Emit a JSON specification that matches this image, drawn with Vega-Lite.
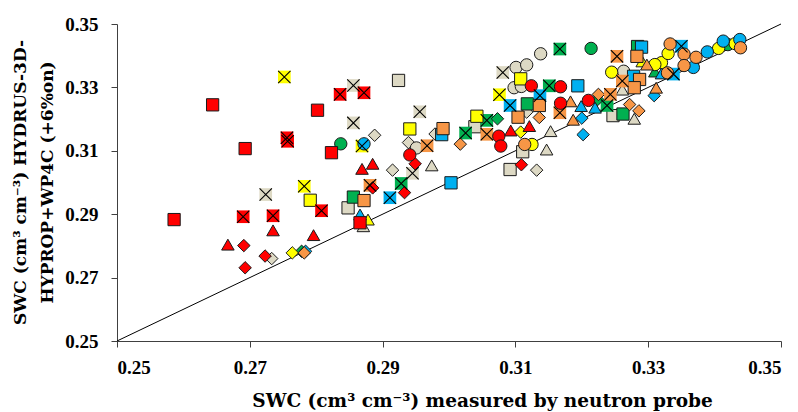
{
  "$schema": "https://vega.github.io/schema/vega-lite/v6.json",
  "width": 664,
  "height": 317,
  "autosize": {"type": "none"},
  "padding": {"left": 117, "top": 24, "right": 17, "bottom": 71},
  "background": "white",
  "config": {
    "view": {"stroke": null},
    "axis": {
      "grid": false,
      "domainColor": "#404040",
      "tickColor": "#404040",
      "tickSize": 6,
      "labelFont": "Liberation Serif",
      "labelFontWeight": "bold",
      "labelFontSize": 19,
      "labelColor": "#000000",
      "titleFont": "DejaVu Serif",
      "titleFontWeight": "bold",
      "titleFontSize": 17,
      "titleColor": "#000000"
    }
  },
  "layer": [
    {
      "data": {"values": [{"x": 0.25, "y": 0.25}, {"x": 0.35, "y": 0.35}]},
      "mark": {"type": "line", "color": "#000000", "strokeWidth": 1},
      "encoding": {
        "x": {"field": "x", "type": "quantitative", "scale": {"domain": [0.25, 0.35], "nice": false, "zero": false},
          "axis": {"values": [0.25, 0.27, 0.29, 0.31, 0.33, 0.35], "format": ".2f", "labelPadding": 11,
            "title": "SWC (cm³ cm⁻³) measured by neutron probe", "titleFontSize": 18.5, "titleX": 365, "titleY": 59, "titleBaseline": "middle", "titleAnchor": null}},
        "y": {"field": "y", "type": "quantitative", "scale": {"domain": [0.25, 0.35], "nice": false, "zero": false},
          "axis": {"values": [0.25, 0.27, 0.29, 0.31, 0.33, 0.35], "format": ".2f", "labelPadding": 13,
            "title": ["SWC (cm³ cm⁻³) HYDRUS-3D-", "HYPROP+WP4C (+6%on)"], "titleAngle": -90, "titleX": -97, "titleY": 158, "titleBaseline": "middle", "titleAlign": "center", "titleLineHeight": 27}}
      }
    },
    {
      "data": {"name": "pts"},
      "mark": {"type": "point", "filled": true, "opacity": 1, "stroke": "#1a1a1a"},
      "encoding": {
        "x": {"field": "x", "type": "quantitative"},
        "y": {"field": "y", "type": "quantitative"},
        "fill": {"field": "c", "type": "nominal", "legend": null,
          "scale": {"domain": ["t", "g", "y", "b", "o", "r"], "range": ["#DDD9C4", "#00B050", "#FFFF00", "#00B0F0", "#F79646", "#FF0000"]}},
        "shape": {"field": "m", "type": "nominal", "legend": null,
          "scale": {"domain": ["sq", "ci", "di", "tr", "xs"], "range": ["square", "circle", "diamond", "triangle-up", "square"]}},
        "size": {"field": "m", "type": "nominal", "legend": null,
          "scale": {"domain": ["sq", "ci", "di", "tr", "xs"], "range": [150, 160, 165, 180, 210]}},
        "strokeWidth": {"condition": {"test": "datum.m === 'xs'", "value": 0}, "value": 1}
      }
    },
    {
      "data": {"name": "pts"},
      "transform": [{"filter": "datum.m === 'xs'"}],
      "mark": {"type": "point", "filled": false, "opacity": 1, "stroke": "#000000", "strokeWidth": 1.1, "size": 210,
        "shape": "M-0.85,-0.85L0.85,0.85M-0.85,0.85L0.85,-0.85"},
      "encoding": {
        "x": {"field": "x", "type": "quantitative"},
        "y": {"field": "y", "type": "quantitative"}
      }
    }
  ],
  "datasets": {
    "pts": [
      {"x":0.2724,"y":0.2962,"c":"t","m":"xs"},
      {"x":0.2856,"y":0.3306,"c":"t","m":"xs"},
      {"x":0.2856,"y":0.3188,"c":"t","m":"xs"},
      {"x":0.2956,"y":0.3223,"c":"t","m":"xs"},
      {"x":0.2945,"y":0.3029,"c":"t","m":"xs"},
      {"x":0.3081,"y":0.3347,"c":"t","m":"xs"},
      {"x":0.2924,"y":0.3322,"c":"t","m":"sq"},
      {"x":0.2848,"y":0.2920,"c":"t","m":"sq"},
      {"x":0.3039,"y":0.3176,"c":"t","m":"sq"},
      {"x":0.3111,"y":0.3097,"c":"t","m":"sq"},
      {"x":0.3092,"y":0.3041,"c":"t","m":"sq"},
      {"x":0.3247,"y":0.3211,"c":"t","m":"sq"},
      {"x":0.2733,"y":0.2760,"c":"t","m":"di"},
      {"x":0.2888,"y":0.3149,"c":"t","m":"di"},
      {"x":0.2939,"y":0.3126,"c":"t","m":"di"},
      {"x":0.2979,"y":0.3153,"c":"t","m":"di"},
      {"x":0.2915,"y":0.3039,"c":"t","m":"di"},
      {"x":0.3117,"y":0.3222,"c":"t","m":"di"},
      {"x":0.3132,"y":0.3039,"c":"t","m":"di"},
      {"x":0.2951,"y":0.3109,"c":"t","m":"ci"},
      {"x":0.3101,"y":0.3363,"c":"t","m":"ci"},
      {"x":0.3117,"y":0.3371,"c":"t","m":"ci"},
      {"x":0.3138,"y":0.3406,"c":"t","m":"ci"},
      {"x":0.3098,"y":0.3299,"c":"t","m":"ci"},
      {"x":0.3109,"y":0.3303,"c":"t","m":"ci"},
      {"x":0.3263,"y":0.3351,"c":"t","m":"ci"},
      {"x":0.2871,"y":0.2862,"c":"t","m":"tr"},
      {"x":0.2974,"y":0.3054,"c":"t","m":"tr"},
      {"x":0.3153,"y":0.3162,"c":"t","m":"tr"},
      {"x":0.3147,"y":0.3104,"c":"t","m":"tr"},
      {"x":0.3261,"y":0.3293,"c":"t","m":"tr"},
      {"x":0.3279,"y":0.3201,"c":"t","m":"tr"},
      {"x":0.2837,"y":0.3122,"c":"g","m":"ci"},
      {"x":0.3214,"y":0.3423,"c":"g","m":"ci"},
      {"x":0.3420,"y":0.3435,"c":"g","m":"ci"},
      {"x":0.2928,"y":0.2997,"c":"g","m":"xs"},
      {"x":0.3025,"y":0.3156,"c":"g","m":"xs"},
      {"x":0.3057,"y":0.3196,"c":"g","m":"xs"},
      {"x":0.3167,"y":0.3421,"c":"g","m":"xs"},
      {"x":0.3151,"y":0.3305,"c":"g","m":"xs"},
      {"x":0.3238,"y":0.3243,"c":"g","m":"xs"},
      {"x":0.2856,"y":0.2954,"c":"g","m":"sq"},
      {"x":0.3118,"y":0.3248,"c":"g","m":"sq"},
      {"x":0.3284,"y":0.3429,"c":"g","m":"sq"},
      {"x":0.3262,"y":0.3216,"c":"g","m":"sq"},
      {"x":0.3073,"y":0.3201,"c":"g","m":"di"},
      {"x":0.2778,"y":0.2783,"c":"g","m":"di"},
      {"x":0.3224,"y":0.3262,"c":"g","m":"di"},
      {"x":0.3310,"y":0.3350,"c":"g","m":"tr"},
      {"x":0.2752,"y":0.3333,"c":"y","m":"xs"},
      {"x":0.2782,"y":0.2988,"c":"y","m":"xs"},
      {"x":0.2869,"y":0.3115,"c":"y","m":"xs"},
      {"x":0.3076,"y":0.3277,"c":"y","m":"xs"},
      {"x":0.2791,"y":0.2944,"c":"y","m":"sq"},
      {"x":0.2941,"y":0.3169,"c":"y","m":"sq"},
      {"x":0.3042,"y":0.3209,"c":"y","m":"sq"},
      {"x":0.3108,"y":0.3327,"c":"y","m":"sq"},
      {"x":0.2878,"y":0.2883,"c":"y","m":"tr"},
      {"x":0.3291,"y":0.3382,"c":"y","m":"tr"},
      {"x":0.2764,"y":0.2778,"c":"y","m":"di"},
      {"x":0.3108,"y":0.3159,"c":"y","m":"di"},
      {"x":0.3125,"y":0.3120,"c":"y","m":"ci"},
      {"x":0.3245,"y":0.3348,"c":"y","m":"ci"},
      {"x":0.3320,"y":0.3378,"c":"y","m":"ci"},
      {"x":0.3330,"y":0.3407,"c":"y","m":"ci"},
      {"x":0.3406,"y":0.3423,"c":"y","m":"ci"},
      {"x":0.3431,"y":0.3438,"c":"y","m":"ci"},
      {"x":0.3310,"y":0.3372,"c":"y","m":"ci"},
      {"x":0.2872,"y":0.3122,"c":"b","m":"ci"},
      {"x":0.3368,"y":0.3363,"c":"b","m":"ci"},
      {"x":0.3389,"y":0.3412,"c":"b","m":"ci"},
      {"x":0.3413,"y":0.3446,"c":"b","m":"ci"},
      {"x":0.3438,"y":0.3451,"c":"b","m":"ci"},
      {"x":0.3003,"y":0.2999,"c":"b","m":"sq"},
      {"x":0.3194,"y":0.3305,"c":"b","m":"sq"},
      {"x":0.3290,"y":0.3427,"c":"b","m":"sq"},
      {"x":0.3278,"y":0.3335,"c":"b","m":"sq"},
      {"x":0.2989,"y":0.3151,"c":"b","m":"sq"},
      {"x":0.2911,"y":0.2952,"c":"b","m":"xs"},
      {"x":0.3092,"y":0.3243,"c":"b","m":"xs"},
      {"x":0.3137,"y":0.3274,"c":"b","m":"xs"},
      {"x":0.3350,"y":0.3430,"c":"b","m":"xs"},
      {"x":0.3338,"y":0.3342,"c":"b","m":"xs"},
      {"x":0.2866,"y":0.2899,"c":"b","m":"tr"},
      {"x":0.3199,"y":0.3241,"c":"b","m":"tr"},
      {"x":0.3220,"y":0.3236,"c":"b","m":"tr"},
      {"x":0.3320,"y":0.3344,"c":"b","m":"tr"},
      {"x":0.2784,"y":0.2783,"c":"b","m":"di"},
      {"x":0.3200,"y":0.3203,"c":"b","m":"di"},
      {"x":0.3202,"y":0.3151,"c":"b","m":"di"},
      {"x":0.3309,"y":0.3274,"c":"b","m":"di"},
      {"x":0.2782,"y":0.2778,"c":"o","m":"di"},
      {"x":0.3017,"y":0.3121,"c":"o","m":"di"},
      {"x":0.3136,"y":0.3205,"c":"o","m":"di"},
      {"x":0.3225,"y":0.3278,"c":"o","m":"di"},
      {"x":0.3272,"y":0.3246,"c":"o","m":"di"},
      {"x":0.3286,"y":0.3226,"c":"o","m":"di"},
      {"x":0.2872,"y":0.2943,"c":"o","m":"sq"},
      {"x":0.2991,"y":0.3170,"c":"o","m":"sq"},
      {"x":0.3104,"y":0.3206,"c":"o","m":"sq"},
      {"x":0.3136,"y":0.3243,"c":"o","m":"sq"},
      {"x":0.3283,"y":0.3398,"c":"o","m":"sq"},
      {"x":0.3287,"y":0.3325,"c":"o","m":"sq"},
      {"x":0.3279,"y":0.3299,"c":"o","m":"sq"},
      {"x":0.2881,"y":0.2991,"c":"o","m":"xs"},
      {"x":0.2967,"y":0.3116,"c":"o","m":"xs"},
      {"x":0.3057,"y":0.3152,"c":"o","m":"xs"},
      {"x":0.3167,"y":0.3220,"c":"o","m":"xs"},
      {"x":0.3243,"y":0.3278,"c":"o","m":"xs"},
      {"x":0.3253,"y":0.3398,"c":"o","m":"xs"},
      {"x":0.3261,"y":0.3320,"c":"o","m":"xs"},
      {"x":0.3183,"y":0.3256,"c":"o","m":"tr"},
      {"x":0.3187,"y":0.3198,"c":"o","m":"tr"},
      {"x":0.3298,"y":0.3372,"c":"o","m":"tr"},
      {"x":0.3312,"y":0.3299,"c":"o","m":"tr"},
      {"x":0.3114,"y":0.3120,"c":"o","m":"ci"},
      {"x":0.3333,"y":0.3437,"c":"o","m":"ci"},
      {"x":0.3354,"y":0.3405,"c":"o","m":"ci"},
      {"x":0.3372,"y":0.3395,"c":"o","m":"ci"},
      {"x":0.3354,"y":0.3369,"c":"o","m":"ci"},
      {"x":0.3329,"y":0.3346,"c":"o","m":"ci"},
      {"x":0.3439,"y":0.3425,"c":"o","m":"ci"},
      {"x":0.2586,"y":0.2883,"c":"r","m":"sq"},
      {"x":0.2644,"y":0.3245,"c":"r","m":"sq"},
      {"x":0.2693,"y":0.3107,"c":"r","m":"sq"},
      {"x":0.2802,"y":0.3228,"c":"r","m":"sq"},
      {"x":0.2823,"y":0.3094,"c":"r","m":"sq"},
      {"x":0.2866,"y":0.2873,"c":"r","m":"sq"},
      {"x":0.2756,"y":0.3141,"c":"r","m":"xs"},
      {"x":0.2757,"y":0.3130,"c":"r","m":"xs"},
      {"x":0.2836,"y":0.3278,"c":"r","m":"xs"},
      {"x":0.2872,"y":0.3283,"c":"r","m":"xs"},
      {"x":0.2808,"y":0.2911,"c":"r","m":"xs"},
      {"x":0.2690,"y":0.2892,"c":"r","m":"xs"},
      {"x":0.2735,"y":0.2895,"c":"r","m":"xs"},
      {"x":0.2735,"y":0.2849,"c":"r","m":"tr"},
      {"x":0.2796,"y":0.2834,"c":"r","m":"tr"},
      {"x":0.2667,"y":0.2804,"c":"r","m":"tr"},
      {"x":0.2869,"y":0.3043,"c":"r","m":"tr"},
      {"x":0.2885,"y":0.3059,"c":"r","m":"tr"},
      {"x":0.3093,"y":0.3164,"c":"r","m":"tr"},
      {"x":0.3121,"y":0.3178,"c":"r","m":"tr"},
      {"x":0.2691,"y":0.2801,"c":"r","m":"di"},
      {"x":0.2723,"y":0.2768,"c":"r","m":"di"},
      {"x":0.2693,"y":0.2731,"c":"r","m":"di"},
      {"x":0.2949,"y":0.3059,"c":"r","m":"di"},
      {"x":0.2885,"y":0.2983,"c":"r","m":"di"},
      {"x":0.2933,"y":0.2968,"c":"r","m":"di"},
      {"x":0.3109,"y":0.3056,"c":"r","m":"di"},
      {"x":0.2941,"y":0.3087,"c":"r","m":"ci"},
      {"x":0.3075,"y":0.3146,"c":"r","m":"ci"},
      {"x":0.3078,"y":0.3115,"c":"r","m":"ci"},
      {"x":0.3124,"y":0.3305,"c":"r","m":"ci"},
      {"x":0.3168,"y":0.3302,"c":"r","m":"ci"},
      {"x":0.3168,"y":0.3250,"c":"r","m":"ci"},
      {"x":0.3210,"y":0.3259,"c":"r","m":"ci"}
    ]
  }
}
